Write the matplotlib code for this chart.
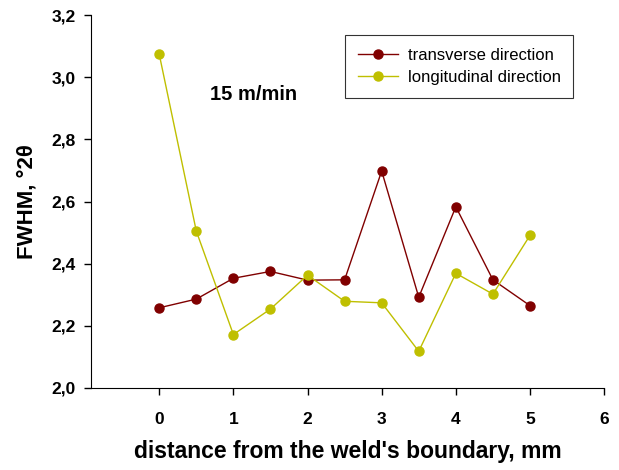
import matplotlib
matplotlib.use("Agg")
import matplotlib.pyplot as plt

plt.rcParams['font.family'] = ['Liberation Sans', 'DejaVu Sans']

# distance from weld boundary, mm
distance = [0, 0.5, 1, 1.5, 2, 2.5, 3, 3.5, 4, 4.5, 5]
# FWHM values, degrees 2theta
transverse = [2.258, 2.286, 2.353, 2.375, 2.347, 2.348, 2.698, 2.292, 2.583, 2.348, 2.265]
longitudinal = [3.074, 2.505, 2.172, 2.254, 2.363, 2.279, 2.274, 2.118, 2.369, 2.302, 2.491]

y_ticks = [2.0, 2.2, 2.4, 2.6, 2.8, 3.0, 3.2]
x_ticks = [0, 1, 2, 3, 4, 5, 6]

fig = plt.figure(figsize=(6.19, 4.70), dpi=100)
ax = fig.add_axes([0.147, 0.1745, 0.829, 0.7935])

ax.plot(distance, transverse, color='#800000', marker='o', markersize=6.5,
        linewidth=1.0, label='transverse direction')
ax.plot(distance, longitudinal, color='#bfbf00', marker='o', markersize=6.5,
        linewidth=1.0, label='longitudinal direction')

ax.set_xlim(-0.92, 6)
ax.set_ylim(2.0, 3.2)
ax.set_xticks(x_ticks)
ax.set_yticks(y_ticks)
ax.set_yticklabels([f'{v:.1f}'.replace('.', ',') for v in y_ticks])
ax.tick_params(direction='out', length=5, width=1, labelsize=12.5)
ax.tick_params(axis='y', pad=6)
ax.tick_params(axis='x', pad=12)
for lbl in ax.get_xticklabels() + ax.get_yticklabels():
    lbl.set_fontweight('bold')

ax.spines['top'].set_visible(False)
ax.spines['right'].set_visible(False)

ax.set_xlabel("distance from the weld's boundary, mm", fontsize=16.5, fontweight='bold', labelpad=10)
ax.set_ylabel('FWHM, °2θ', fontsize=16, fontweight='bold', labelpad=10)

ax.text(0.687, 2.943, '15 m/min', fontsize=14.5, fontweight='bold', va='center')

leg = ax.legend(loc='upper right', bbox_to_anchor=(0.94, 0.946), borderaxespad=0,
                fontsize=12, frameon=True, fancybox=False, handlelength=2.4,
                handletextpad=0.6, labelspacing=0.45, borderpad=0.75)
leg.get_frame().set_edgecolor('black')
leg.get_frame().set_linewidth(0.8)

fig.savefig('out.png', dpi=100)
